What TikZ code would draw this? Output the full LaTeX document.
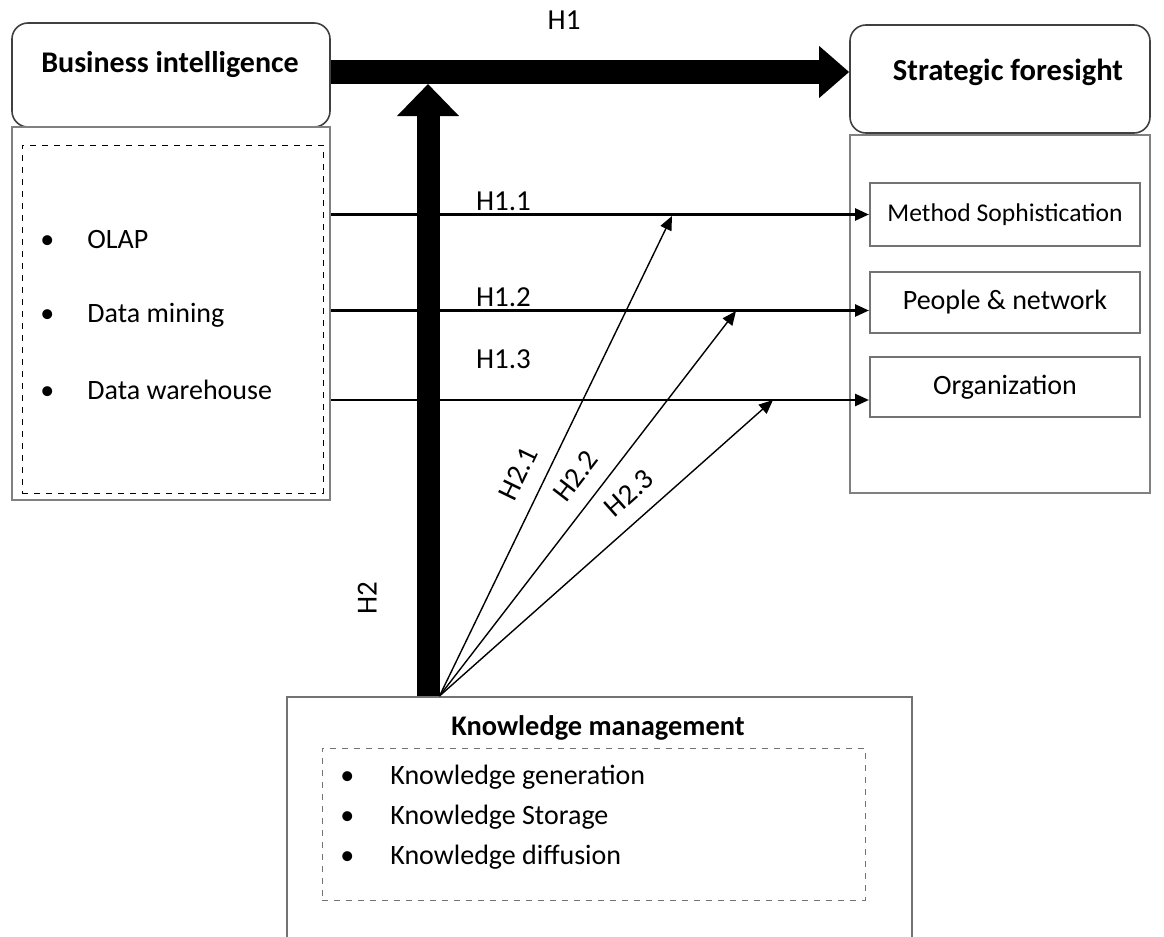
\documentclass[tikz,border=0pt]{standalone}
\usepackage{fontspec}
\setmainfont{Carlito}
\usetikzlibrary{arrows.meta,positioning}
\newcommand{\itm}[2][23.5pt]{\makebox[#1][l]{\textbullet}#2}

\begin{document}
\begin{tikzpicture}[x=0.5pt,y=-0.5pt,
  every node/.style={font=\fontsize{14}{17}\selectfont},
  rbox/.style={draw=black!75,line width=0.8pt,rounded corners=8pt,minimum width=159pt},
  panel/.style={draw=black!50,line width=1.4pt,minimum width=159pt},
  sub/.style={draw=black!55,line width=1pt,minimum width=135pt},
  dashbox/.style={draw,dashed,line width=0.5pt},
  ttl/.style={font=\fontsize{14.5}{17}\selectfont\bfseries},
  itm/.style={anchor=west,inner sep=0pt},
  hyp/.style={font=\fontsize{14.5}{17}\selectfont,inner sep=2pt},
  bigarr/.style={-{Triangle[length=15pt,width=25pt]},line width=12pt},
  uparr/.style={-{Triangle[length=16pt,width=30pt]},line width=11.5pt},
  thinarr/.style={-{Triangle[length=7pt,width=6pt]},line width=1.3pt},
  fanarr/.style={-{Triangle[length=7pt,width=6pt]},line width=0.7pt}]

\useasboundingbox (0,0) rectangle (1164,937);
\clip (0,0) rectangle (1164,937);

% --- business intelligence
\node[rbox,minimum height=52pt] (bi) at (171,75) {};
\node[ttl,font=\fontsize{15}{17}\selectfont\bfseries] (bittl) at (170,65) {Business intelligence};
\node[panel,minimum height=186.5pt] (bilist) at (171,313.5) {};
\node[dashbox,minimum width=150.5pt,minimum height=174pt] (bidash) at (172.5,319) {};
\node[itm] (olap) at (40,240) {\itm{OLAP}};
\node[itm] (dm) at (40,315) {\itm{Data mining}};
\node[itm] (dw) at (40,390) {\itm{Data warehouse}};

% --- strategic foresight
\node[rbox,minimum width=150pt,minimum height=54pt] (sf) at (1000,79) {};
\node[ttl,font=\fontsize{15.3}{17}\selectfont\bfseries] (sfttl) at (1008,72) {Strategic foresight};
\node[panel,minimum width=150pt,minimum height=179pt] (sflist) at (1000,314) {};
\node[sub,minimum height=31.5pt,font=\fontsize{12.8}{15}\selectfont] (ms) at (1005,214.5) {Method Sophistication};
\node[sub,minimum height=30.5pt] (pn) at (1005,302.5) {People \& network};
\node[sub,minimum height=30pt] (org) at (1005,387) {Organization};

% --- knowledge management
\node[panel,draw=black!55,line width=1pt,minimum width=312.5pt,minimum height=131.5pt] (km) at (599.5,828.5) {};
\node[ttl,font=\fontsize{14.2}{17}\selectfont\bfseries] (kmttl) at (598,728) {Knowledge management};
\node[dashbox,draw=black!55,minimum width=271.5pt,minimum height=76pt] (kmdash) at (593.5,824) {};
\node[itm] (kg) at (340,777) {\itm[25pt]{Knowledge generation}};
\node[itm] (ks) at (340,817) {\itm[25pt]{Knowledge Storage}};
\node[itm] (kd) at (340,857) {\itm[25pt]{Knowledge diffusion}};

% --- H1
\coordinate (msin) at (ms.west);
\coordinate (pnin) at ([yshift=-4pt]pn.west);
\coordinate (orgin) at ([yshift=-6.5pt]org.west);
\draw[thinarr] (bilist.east |- msin) -- (msin) node[hyp,pos=0.32,above=-1pt] {H1.1};
\draw[thinarr] (bilist.east |- pnin) -- (pnin) node[hyp,pos=0.32,above=-1pt] {H1.2};
\draw[thinarr] (bilist.east |- orgin) -- (orgin) node[hyp,pos=0.32,above=13pt] {H1.3};
\draw[bigarr] ([yshift=1.5pt]bi.east) -- ([yshift=1.5pt]bi.east -| sf.west) node[hyp,pos=0.45,above=13pt] {H1};

% --- H2
\coordinate (h2top) at (428,84);
\draw[uparr] (h2top |- km.north) -- (h2top) node[hyp,pos=0.16,sloped,above=18pt] {H2};
\coordinate (fan) at ([xshift=-80pt]km.north);
\coordinate (t1) at (672,216);
\coordinate (t2) at (736,311);
\coordinate (t3) at (773,400);
\draw[fanarr] (fan) -- (t1) node[hyp,pos=0.44,sloped,above=6pt] {H2.1};
\draw[fanarr] (fan) -- (t2) node[hyp,pos=0.53,sloped,above=6pt] {H2.2};
\draw[fanarr] (fan) -- (t3) node[hyp,pos=0.62,sloped,above=6pt] {H2.3};
\end{tikzpicture}
\end{document}
